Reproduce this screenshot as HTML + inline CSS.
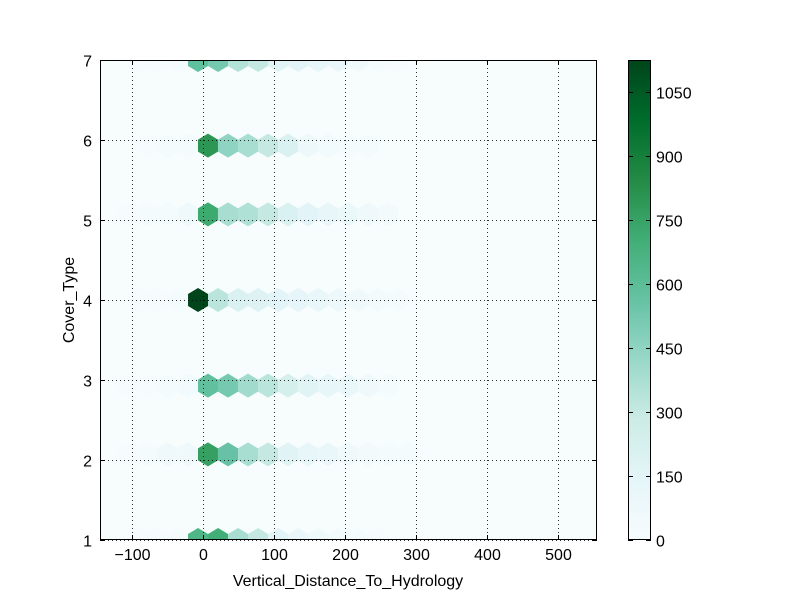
<!DOCTYPE html>
<html><head><meta charset="utf-8"><style>
body{margin:0;background:#fff;}
svg text{font-family:"Liberation Sans",sans-serif;font-size:16px;fill:#000;}
</style></head><body>
<svg id="c" width="800" height="600" xmlns="http://www.w3.org/2000/svg"></svg>
<script>
const rows=[1,2,3,4,5,6,7];
const rowY=[1,2.07,2.93,4,5.07,5.93,7];
const rowStartX=[-91.6,-105.8,-105.8,-91.6,-105.8,-77.6,-91.6];
const binStep=28.2;
const row1Counts=[5,10,20,650,700,380,300,150,100,70,40,20,10];
const row2Counts=[10,20,60,60,760,560,380,300,170,130,100,60,40,30,20];
const row3Counts=[5,10,20,50,580,520,400,330,230,170,130,100,60,30];
const row4Counts=[5,10,20,1125,330,200,180,150,140,110,80,60,40,20];
const row5Counts=[10,20,30,60,720,380,360,300,200,150,120,90,60,40];
const row6Counts=[10,30,30,800,450,380,300,200,80,50,30,20];
const row7Counts=[5,10,20,580,520,350,300,170,150,130,100,60,30,10];
const allCounts=[row1Counts,row2Counts,row3Counts,row4Counts,row5Counts,row6Counts,row7Counts];
const xTicks=[-100,0,100,200,300,400,500];
const yTicks=[1,2,3,4,5,6,7];
const cbTicks=[0,150,300,450,600,750,900,1050];
const vmax=1125;

const L=100,R=597,T=60,B=540;
const xs=v=>203+(v)*0.71;
const ys=v=>540-(v-1)*80;
const NS="http://www.w3.org/2000/svg";
const svg=document.getElementById('c');
function mk(tag,attrs,parent){const e=document.createElementNS(NS,tag);for(const k in attrs)e.setAttribute(k,attrs[k]);(parent||svg).appendChild(e);return e;}
const stops=["#f7fcfd","#e5f5f9","#ccece6","#99d8c9","#66c2a4","#41ae76","#238b45","#006d2c","#00441b"];
function hex2rgb(h){return [1,3,5].map(i=>parseInt(h.substr(i,2),16));}
function cmap(t){t=Math.max(0,Math.min(1,t));const p=t*8,i=Math.min(7,Math.floor(p)),f=p-i;const a=hex2rgb(stops[i]),b=hex2rgb(stops[i+1]);return "rgb("+a.map((v,j)=>Math.round(v+(b[j]-v)*f)).join(",")+")";}

const defs=mk('defs',{});
const cp=mk('clipPath',{id:'pc'},defs);mk('rect',{x:L,y:T,width:R-L,height:B-T},cp);
const bg=mk('rect',{x:L,y:T,width:R-L,height:B-T,fill:"#f7fcfd"});


const hg=mk('g',{'clip-path':'url(#pc)'});


rows.forEach((r,ri)=>{
  allCounts[ri].forEach((c,k)=>{
    const cx=xs(rowStartX[ri]+k*binStep),cy=ys(rowY[ri]);
    const pts=[[0,-12],[10,-6],[10,6],[0,12],[-10,6],[-10,-6]].map(p=>(cx+p[0])+","+(cy+p[1])).join(" ");
    const h=mk('polygon',{points:pts,fill:cmap(c/vmax)},hg);
    
    
  });
});
const gg=mk('g',{stroke:"#000","stroke-width":1,"stroke-dasharray":"1,3",opacity:0.8});


xTicks.forEach(v=>{const x=Math.round(xs(v))+0.5;mk('line',{x1:x,x2:x,y1:T,y2:B},gg);});
yTicks.forEach(v=>{const y=Math.round(ys(v))+0.5;mk('line',{x1:L,x2:R,y1:y,y2:y},gg);});
const fr=mk('rect',{x:L+0.5,y:T+0.5,width:R-L-1,height:B-T-1,fill:"none",stroke:"#000"});


xTicks.forEach(v=>{const x=Math.round(xs(v))+0.5;
  mk('line',{x1:x,x2:x,y1:B,y2:B-5,stroke:"#000"});mk('line',{x1:x,x2:x,y1:T,y2:T+5,stroke:"#000"});
  const t=mk('text',{x:x,y:B+20,'text-anchor':'middle'});t.textContent=(v<0?"\u2212"+(-v):v);
  
  });
yTicks.forEach(v=>{const y=Math.round(ys(v))+0.5;
  mk('line',{x1:L,x2:L+5,y1:y,y2:y,stroke:"#000"});mk('line',{x1:R,x2:R-5,y1:y,y2:y,stroke:"#000"});
  const t=mk('text',{x:L-8,y:y+6,'text-anchor':'end'});t.textContent=v;
  
  });
const xt=mk('text',{x:348,y:586,'text-anchor':'middle'});xt.textContent="Vertical_Distance_To_Hydrology";


const yt=mk('text',{x:74,y:300,'text-anchor':'middle',transform:'rotate(-90 74 300)'});yt.textContent="Cover_Type";


const CL=628,CR=651;
const lg=mk('linearGradient',{id:'cg',x1:0,y1:1,x2:0,y2:0},defs);
stops.forEach((s,i)=>mk('stop',{offset:i/8,'stop-color':s},lg));
const cb=mk('rect',{x:CL+0.5,y:T+0.5,width:CR-CL-1,height:B-T-1,fill:"url(#cg)",stroke:"#000"});


cbTicks.forEach(v=>{const y=Math.round(B-v/vmax*(B-T))+0.5;
  mk('line',{x1:CR-5,x2:CR,y1:y,y2:y,stroke:"#000"});mk('line',{x1:CL,x2:CL+5,y1:y,y2:y,stroke:"#000"});
  const t=mk('text',{x:CR+5,y:y+6});t.textContent=v;
  
  });
</script>
</body></html>
